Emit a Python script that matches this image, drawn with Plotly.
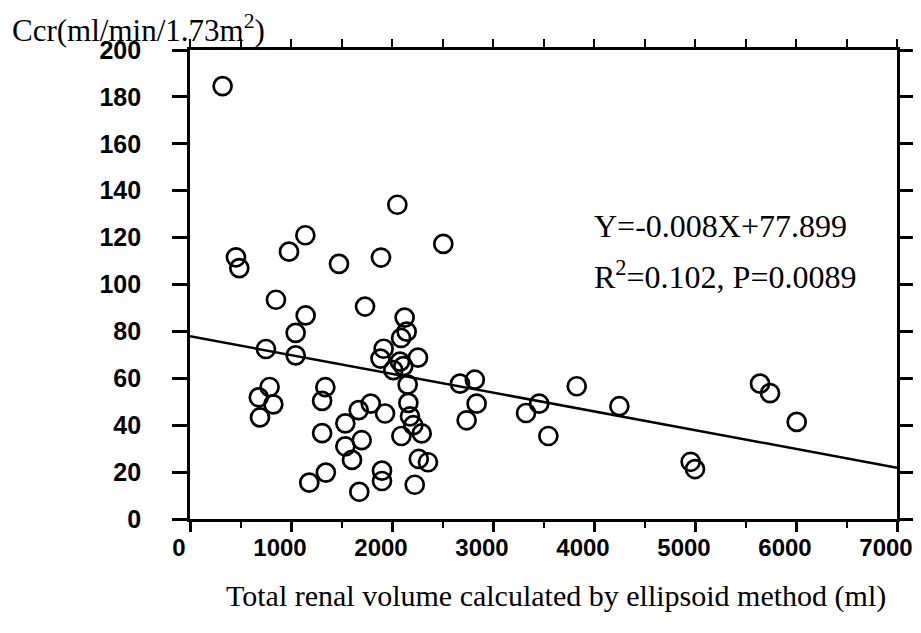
'''
    Scatter plot of creatinine clearance against total renal volume,
    with the fitted regression line.
'''

import plotly.graph_objects as go

# total renal volume (ml) and Ccr (ml/min/1.73m2)
volume = [323, 455, 488, 980, 1142, 1475, 1891, 2053, 2508,
          851, 1733, 1145, 2125, 2145, 1046, 2090, 752, 1917, 1046,
          1886, 2257, 2079, 2112, 2013, 2155, 2673, 2820, 788, 1340,
          681, 1308, 825, 1790, 2162, 2838, 3457, 3327, 1670, 1931,
          693, 2178, 2739, 3548, 2211, 1538, 1308, 2093, 2294, 1700,
          1538, 1604, 2265, 2356, 1901, 1345, 1901, 1181, 2225, 1676,
          3829, 4251, 4957, 5000, 5644, 5743, 6007]
ccr = [184.6, 111.6, 107.0, 114.0, 121.0, 108.8, 111.5, 134.0, 117.3,
       93.5, 90.6, 86.8, 85.9, 79.9, 79.4, 77.2, 72.5, 72.6, 69.8,
       68.4, 68.8, 67.1, 65.2, 63.5, 57.3, 57.7, 59.4, 56.3, 56.2,
       51.9, 50.4, 48.9, 49.2, 49.5, 49.2, 49.2, 45.2, 46.4, 45.0,
       43.3, 43.8, 42.1, 35.4, 40.0, 40.8, 36.6, 35.4, 36.5, 33.6,
       31.0, 25.2, 25.6, 24.2, 20.6, 19.8, 16.2, 15.5, 14.6, 11.6,
       56.6, 48.1, 24.4, 21.3, 57.7, 53.7, 41.4]

# regression from the figure: Y = -0.008X + 77.899
slope = -0.008
intercept = 77.899
fit_x = [0, 7000]
fit_y = [intercept + slope * v for v in fit_x]

x_ticks = [0, 1000, 2000, 3000, 4000, 5000, 6000, 7000]
y_ticks = [0, 20, 40, 60, 80, 100, 120, 140, 160, 180, 200]

SERIF = 'Liberation Serif, Times New Roman, serif'
SANS = 'Liberation Sans, Arial, sans-serif'

fig = go.Figure()

fig.add_trace(go.Scatter(
    x=fit_x, y=fit_y, mode='lines',
    line=dict(color='black', width=2.5),
    showlegend=False, hoverinfo='skip'
))
fig.add_trace(go.Scatter(
    x=volume, y=ccr, mode='markers',
    marker=dict(symbol='circle-open', size=18, color='black',
                line=dict(color='black', width=2.7)),
    showlegend=False
))
# dummy trace so the top axis gets drawn
fig.add_trace(go.Scatter(x=[None], y=[None], xaxis='x2', showlegend=False))

# the page body adds an 8px margin, so the margins here are shifted by it
fig.update_layout(
    width=921, height=633,
    margin=dict(l=182, r=32, t=42, b=122),
    plot_bgcolor='white', paper_bgcolor='white',
    xaxis=dict(
        range=[0, 7000], tickvals=x_ticks, ticks='outside', ticklen=10,
        tickwidth=2.5, tickcolor='black', showgrid=False, zeroline=False,
        showline=True, linewidth=2.7, linecolor='black', automargin=False,
        minor=dict(dtick=500, ticks='outside', ticklen=6, tickwidth=2,
                   tickcolor='black', showgrid=False),
        tickfont=dict(family=SANS, size=24, color='black', weight='bold'),
        ticklabelstandoff=-5, ticklabelshift=-11, ticklabeloverflow='allow'
    ),
    xaxis2=dict(
        range=[0, 7000], overlaying='x', side='top', dtick=500,
        ticks='outside', ticklen=8, tickwidth=2, tickcolor='black',
        showticklabels=False, showgrid=False, zeroline=False,
        showline=True, linewidth=2.7, linecolor='black', automargin=False
    ),
    yaxis=dict(
        range=[0, 200], tickvals=y_ticks, ticks='outside', ticklen=15,
        tickwidth=2.5, tickcolor='black', showgrid=False, zeroline=False,
        showline=True, linewidth=2.7, linecolor='black', mirror='ticks',
        automargin=False,
        tickfont=dict(family=SANS, size=25, color='black', weight='bold'),
        ticklabelstandoff=26
    ),
    annotations=[
        dict(text='Ccr(ml/min/1.73m<sup>2</sup>)', xref='paper', yref='paper',
             x=-0.255, y=1.045, xanchor='left', yanchor='middle',
             showarrow=False, font=dict(family=SERIF, size=31, color='black')),
        dict(text='Total renal volume calculated by ellipsoid method (ml)',
             xref='paper', yref='paper', x=0.518, y=-0.165,
             xanchor='center', yanchor='middle', showarrow=False,
             font=dict(family=SERIF, size=30, color='black')),
        dict(text='Y=-0.008X+77.899', x=3980, y=125, xanchor='left',
             yanchor='middle', showarrow=False,
             font=dict(family=SERIF, size=32, color='black')),
        dict(text='R<sup>2</sup>=0.102, P=0.0089', x=3980, y=104,
             xanchor='left', yanchor='middle', showarrow=False,
             font=dict(family=SERIF, size=32, color='black')),
    ]
)

fig.write_html('out.html')
